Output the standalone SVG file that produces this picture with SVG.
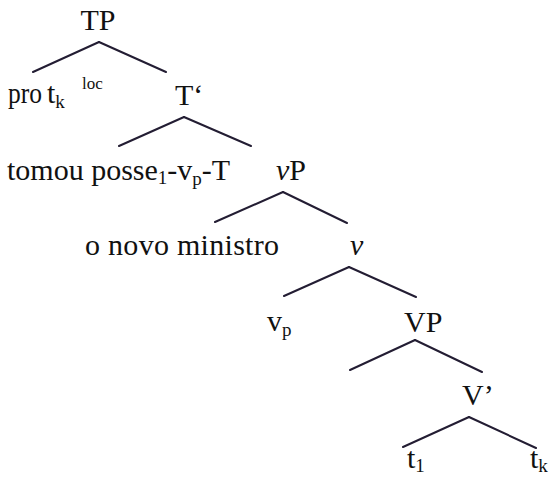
<svg xmlns="http://www.w3.org/2000/svg" width="550" height="486" viewBox="0 0 550 486">
<style>
text{font-family:"Liberation Serif","Times New Roman",serif;font-size:30px;fill:#111}
.sub{font-size:19px}
.sup{font-size:17px}
.it{font-style:italic}
#edges line{stroke:#231d33;stroke-width:2;stroke-linecap:round}
</style>
<rect width="550" height="486" fill="#fff"/>
<g id="edges">
<line x1="99" y1="42" x2="33" y2="72"/><line x1="99" y1="42" x2="166" y2="72"/>
<line x1="184" y1="117" x2="119" y2="146"/><line x1="184" y1="117" x2="251" y2="146"/>
<line x1="283" y1="192" x2="215" y2="222"/><line x1="283" y1="192" x2="347" y2="223"/>
<line x1="349" y1="267" x2="284" y2="296"/><line x1="349" y1="267" x2="416" y2="297"/>
<line x1="415" y1="340" x2="350" y2="370"/><line x1="415" y1="340" x2="482" y2="372"/>
<line x1="469" y1="417" x2="403" y2="447"/><line x1="469" y1="417" x2="536" y2="448"/>
</g>
<g id="TP"><text x="98" y="30" text-anchor="middle">TP</text></g>
<g id="pro"><text x="8" y="103" textLength="34" lengthAdjust="spacingAndGlyphs">pro</text><text x="47" y="103">t<tspan class="sub" dy="5">k</tspan></text><text class="sup" x="82" y="89">loc</text></g>
<g id="Tbar"><text x="175" y="105">T‘</text></g>
<g id="tomou"><text x="7" y="180">tomou posse<tspan class="sub" dy="4">1</tspan><tspan dy="-4">-v</tspan><tspan class="sub" dy="5">p</tspan><tspan dy="-5">-T</tspan></text></g>
<g id="vP"><text x="276" y="180"><tspan class="it">v</tspan>P</text></g>
<g id="ministro"><text x="85" y="255" textLength="194">o novo ministro</text></g>
<g id="v"><text class="it" x="350" y="255">v</text></g>
<g id="vp"><text x="267" y="331">v<tspan class="sub" dy="5">p</tspan></text></g>
<g id="VP"><text x="404" y="332">VP</text></g>
<g id="Vbar"><text x="462" y="405">V’</text></g>
<g id="t1"><text x="407" y="468">t<tspan class="sub" dy="4">1</tspan></text></g>
<g id="tk"><text x="530" y="468">t<tspan class="sub" dy="4">k</tspan></text></g>
</svg>
